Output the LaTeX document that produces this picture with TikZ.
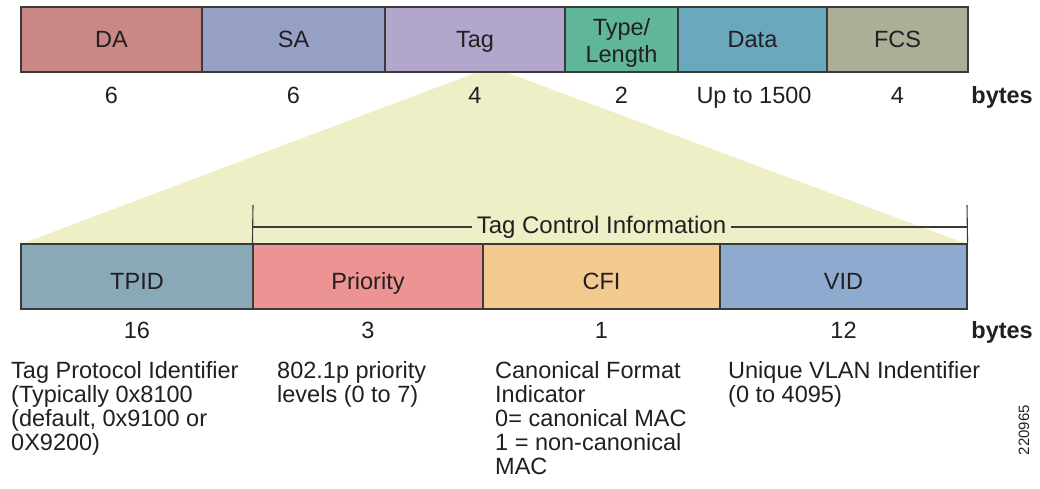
\documentclass[tikz,border=0pt]{standalone}
\usepackage{fontspec}
\setmainfont{Liberation Sans}

\definecolor{inkblack}{HTML}{231F20}
\definecolor{framegray}{HTML}{3A3A3A}
\definecolor{dacol}{HTML}{C98886}
\definecolor{sacol}{HTML}{96A0C4}
\definecolor{tagcol}{HTML}{B3A6CC}
\definecolor{tlcol}{HTML}{5FB69A}
\definecolor{datacol}{HTML}{6AA8BE}
\definecolor{fcscol}{HTML}{ACAF98}
\definecolor{tpidcol}{HTML}{88A9B5}
\definecolor{priocol}{HTML}{EC9493}
\definecolor{cficol}{HTML}{F2C98E}
\definecolor{vidcol}{HTML}{8FAACF}
\definecolor{fancol}{HTML}{EEEFC7}

\begin{document}
\begin{tikzpicture}[x=1pt, y=-1pt,
        every node/.style={font=\fontsize{23.5}{24}\selectfont, text=inkblack},
        field/.style={draw=framegray, line width=1.1pt, minimum height=65pt, inner sep=0pt, align=center},
        upper/.style={field, text height=16.8pt, text depth=0pt},
        lower/.style={field, text height=26.8pt, text depth=0pt},
        size/.style={anchor=base, inner sep=0pt},
        note/.style={anchor=north west, align=left, inner sep=0pt}]
        \useasboundingbox (0, 0) rectangle (1040, 489);

        % expanded tag
        \coordinate (fanA) at (475, 73);
        \coordinate (fanB) at (508, 73);
        \coordinate (fanC) at (967, 244);
        \coordinate (fanD) at (21, 244);
        \fill[fancol] (fanA) -- (fanB) -- (fanC) -- (fanD) -- cycle;

        % frame
        \node[upper, fill=dacol, minimum width=181pt] (da) at (111.5, 39.5) {DA};
        \node[upper, fill=sacol, minimum width=183pt] (sa) at (293.5, 39.5) {SA};
        \node[upper, fill=tagcol, minimum width=180pt] (tag) at (475, 39.5) {Tag};
        \node[field, fill=tlcol, minimum width=113pt,
            label={[inner sep=0pt, align=center, yshift=-3pt]center:{Type/\\[3pt]Length}}] (tl) at (621.5, 39.5) {};
        \node[upper, fill=datacol, minimum width=149pt] (data) at (752.5, 39.5) {Data};
        \node[upper, fill=fcscol, minimum width=141pt] (fcs) at (897.5, 39.5) {FCS};

        \node[size] (nda) at (111.5, 104) {6};
        \node[size] (nsa) at (293.5, 104) {6};
        \node[size] (ntag) at (475, 104) {4};
        \node[size] (ntl) at (621.5, 104) {2};
        \node[size] (ndata) at (754, 104) {Up to 1500};
        \node[size] (nfcs) at (897.5, 104) {4};
        \node[size, anchor=base east, font=\fontsize{23.5}{24}\selectfont\bfseries] (bytesA) at (1033, 104) {bytes};

        % tag fields
        \node[lower, fill=tpidcol, minimum width=232pt] (tpid) at (137, 276.5) {TPID};
        \node[lower, fill=priocol, minimum width=230pt] (prio) at (368, 276.5) {Priority};
        \node[lower, fill=cficol, minimum width=237pt] (cfi) at (601.5, 276.5) {CFI};
        \node[lower, fill=vidcol, minimum width=247pt] (vid) at (843.5, 276.5) {VID};

        \node[size] (ntpid) at (137, 338) {16};
        \node[size] (nprio) at (368, 338) {3};
        \node[size] (ncfi) at (601.5, 338) {1};
        \node[size] (nvid) at (843.5, 338) {12};
        \node[size, anchor=base east, font=\fontsize{23.5}{24}\selectfont\bfseries] (bytesB) at (1033, 338) {bytes};

        % tag control information bracket
        \node[anchor=base, inner xsep=5pt, inner ysep=0pt, font=\fontsize{24}{24}\selectfont] (tci) at (601.5, 233.5) {Tag Control Information};
        \coordinate (tciL) at (253, 227);
        \coordinate (tciR) at (967, 227);
        \coordinate (tickL) at (253, 205);
        \coordinate (tickR) at (967, 205);
        \draw[framegray, line width=1.1pt] (tickL) -- (prio.north west);
        \draw[framegray, line width=1.1pt] (tickR) -- (vid.north east);
        \draw[framegray, line width=1.1pt] (tciL) -- (tciL -| tci.west);
        \draw[framegray, line width=1.1pt] (tci.east |- tciR) -- (tciR);

        % descriptions
        \node[note] (dtpid) at (11, 361) {Tag Protocol Identifier\\(Typically 0x8100\\(default, 0x9100 or\\0X9200)};
        \node[note] (dprio) at (277, 361) {802.1p priority\\levels (0 to 7)};
        \node[note] (dcfi) at (495, 361) {Canonical Format\\Indicator\\0= canonical MAC\\1 = non-canonical\\MAC};
        \node[note] (dvid) at (728, 361) {Unique VLAN Indentifier\\(0 to 4095)};

        \node[rotate=90, inner sep=0pt, font=\fontsize{15}{15}\selectfont] (figid) at (1024, 430) {220965};
    \end{tikzpicture}
\end{document}
